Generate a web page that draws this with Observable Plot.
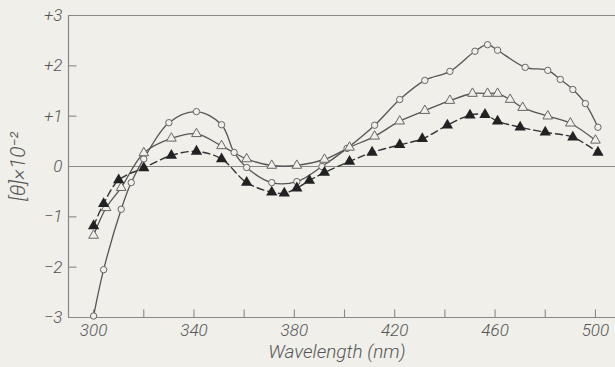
<!DOCTYPE html>
<html><head><meta charset="utf-8">
<script src="https://cdn.jsdelivr.net/npm/d3@7"></script>
<script src="https://cdn.jsdelivr.net/npm/@observablehq/plot@0.6"></script>
<style>html,body{margin:0;padding:0;background:#f0efea;}</style>
</head><body><div id="chart"></div>
<script>
// Series 1: open circles, solid line
const circWl  = [300,304,311,315,320,330,341,351,356,361,371,381,391,401,412,422,432,442,452,457,461,472,481,486,491,496,501];
const circVal = [-2.97,-2.05,-0.85,-0.32,0.15,0.87,1.09,0.83,0.28,-0.02,-0.32,-0.30,0.0,0.36,0.82,1.33,1.71,1.89,2.29,2.42,2.31,1.97,1.91,1.73,1.53,1.25,0.78];
// Series 2: open triangles, solid line
const oTriWl  = [300,305,311,320,331,341,351,361,371,381,392,402,412,422,432,442,451,457,461,466,471,481,490,500];
const oTriVal = [-1.37,-0.82,-0.42,0.27,0.56,0.65,0.41,0.15,0.02,0.02,0.14,0.38,0.60,0.90,1.11,1.31,1.45,1.45,1.45,1.33,1.17,1.00,0.86,0.52];
// Series 3: filled triangles, dashed line
const fTriWl  = [300,304,310,320,331,341,351,361,371,376,381,386,392,402,411,422,431,441,450,456,461,470,480,491,501];
const fTriVal = [-1.18,-0.74,-0.27,-0.03,0.22,0.30,0.15,-0.32,-0.51,-0.53,-0.43,-0.28,-0.12,0.10,0.28,0.43,0.55,0.82,1.02,1.03,0.90,0.78,0.68,0.58,0.28];

const xTicks = [300,320,340,360,380,400,420,440,460,480,500];
const xLabels = [300,340,380,420,460,500];
const yTicks = [-2,-1,1,2];
const yLabelVals = [-3,-2,-1,0,1,2,3];
const yLabelText = ["\u22123","\u22122","\u22121","0","+1","+2","+3"];
const xTitle = "Wavelength (nm)";
const yTitle = "[\u03b8]\u00d710\u207b\u00b2";

const circ = circWl.map((w,i)=>({w, v: circVal[i]}));
const oTri = oTriWl.map((w,i)=>({w, v: oTriVal[i]}));
const fTri = fTriWl.map((w,i)=>({w, v: fTriVal[i]}));

const BG = "#f0efea";
const FONT = "Roboto, 'DejaVu Sans', sans-serif";
const tickUp = {draw(ctx){ctx.moveTo(0,0); ctx.lineTo(0,-8);}};
const tickRight = {draw(ctx){ctx.moveTo(0,0); ctx.lineTo(8,0);}};

const chart = Plot.plot({
  width: 615, height: 367,
  marginLeft: 68, marginRight: 0, marginTop: 15, marginBottom: 50,
  style: {background: BG, color: "#555", fontFamily: FONT, fontWeight: 300},
  x: {domain: [290, 508]},
  y: {domain: [-3, 3]},
  marks: [
    Plot.ruleY([3, 0, -3], {stroke: "#888", strokeWidth: 1.2}),
    Plot.ruleX([290], {stroke: "#888", strokeWidth: 1.2}),
    Plot.dot(xTicks, {x: d=>d, y: ()=>-3, symbol: tickUp, fill: "none", stroke: "#888", strokeWidth: 1.1}),
    Plot.dot(yTicks, {x: ()=>290, y: d=>d, symbol: tickRight, fill: "none", stroke: "#888", strokeWidth: 1.1}),
    Plot.axisX({ticks: xLabels, tickSize: 0, tickPadding: 6, fontSize: 17, fontStyle: "italic", label: null}),
    Plot.axisY({ticks: yLabelVals, tickSize: 0, tickPadding: 6, fontSize: 17, fontStyle: "italic", label: null,
      tickFormat: d => yLabelText[yLabelVals.indexOf(d)]}),
    Plot.text([xTitle], {frameAnchor: "bottom", x: ()=>397, dy: 40, fontSize: 19, fontStyle: "italic", fill: "#555"}),
    Plot.text([yTitle], {frameAnchor: "left", dx: -50, rotate: -90, textAnchor: "middle", fontSize: 21, fontStyle: "italic", fill: "#555"}),
    Plot.line(circ, {x: "w", y: "v", curve: "catmull-rom", stroke: "#555", strokeWidth: 1.3}),
    Plot.line(oTri, {x: "w", y: "v", curve: "catmull-rom", stroke: "#555", strokeWidth: 1.3}),
    Plot.line(fTri, {x: "w", y: "v", curve: "catmull-rom", stroke: "#333", strokeWidth: 1.4, strokeDasharray: "7,4"}),
    Plot.dot(circ, {x: "w", y: "v", r: 3.2, fill: BG, stroke: "#666", strokeWidth: 1}),
    Plot.dot(oTri, {x: "w", y: "v", r: 3.6, symbol: "triangle", fill: BG, stroke: "#666", strokeWidth: 1}),
    Plot.dot(fTri, {x: "w", y: "v", r: 4.2, symbol: "triangle", fill: "#222", stroke: "none"})
  ]
});
document.getElementById("chart").appendChild(chart);
</script>
</body></html>
